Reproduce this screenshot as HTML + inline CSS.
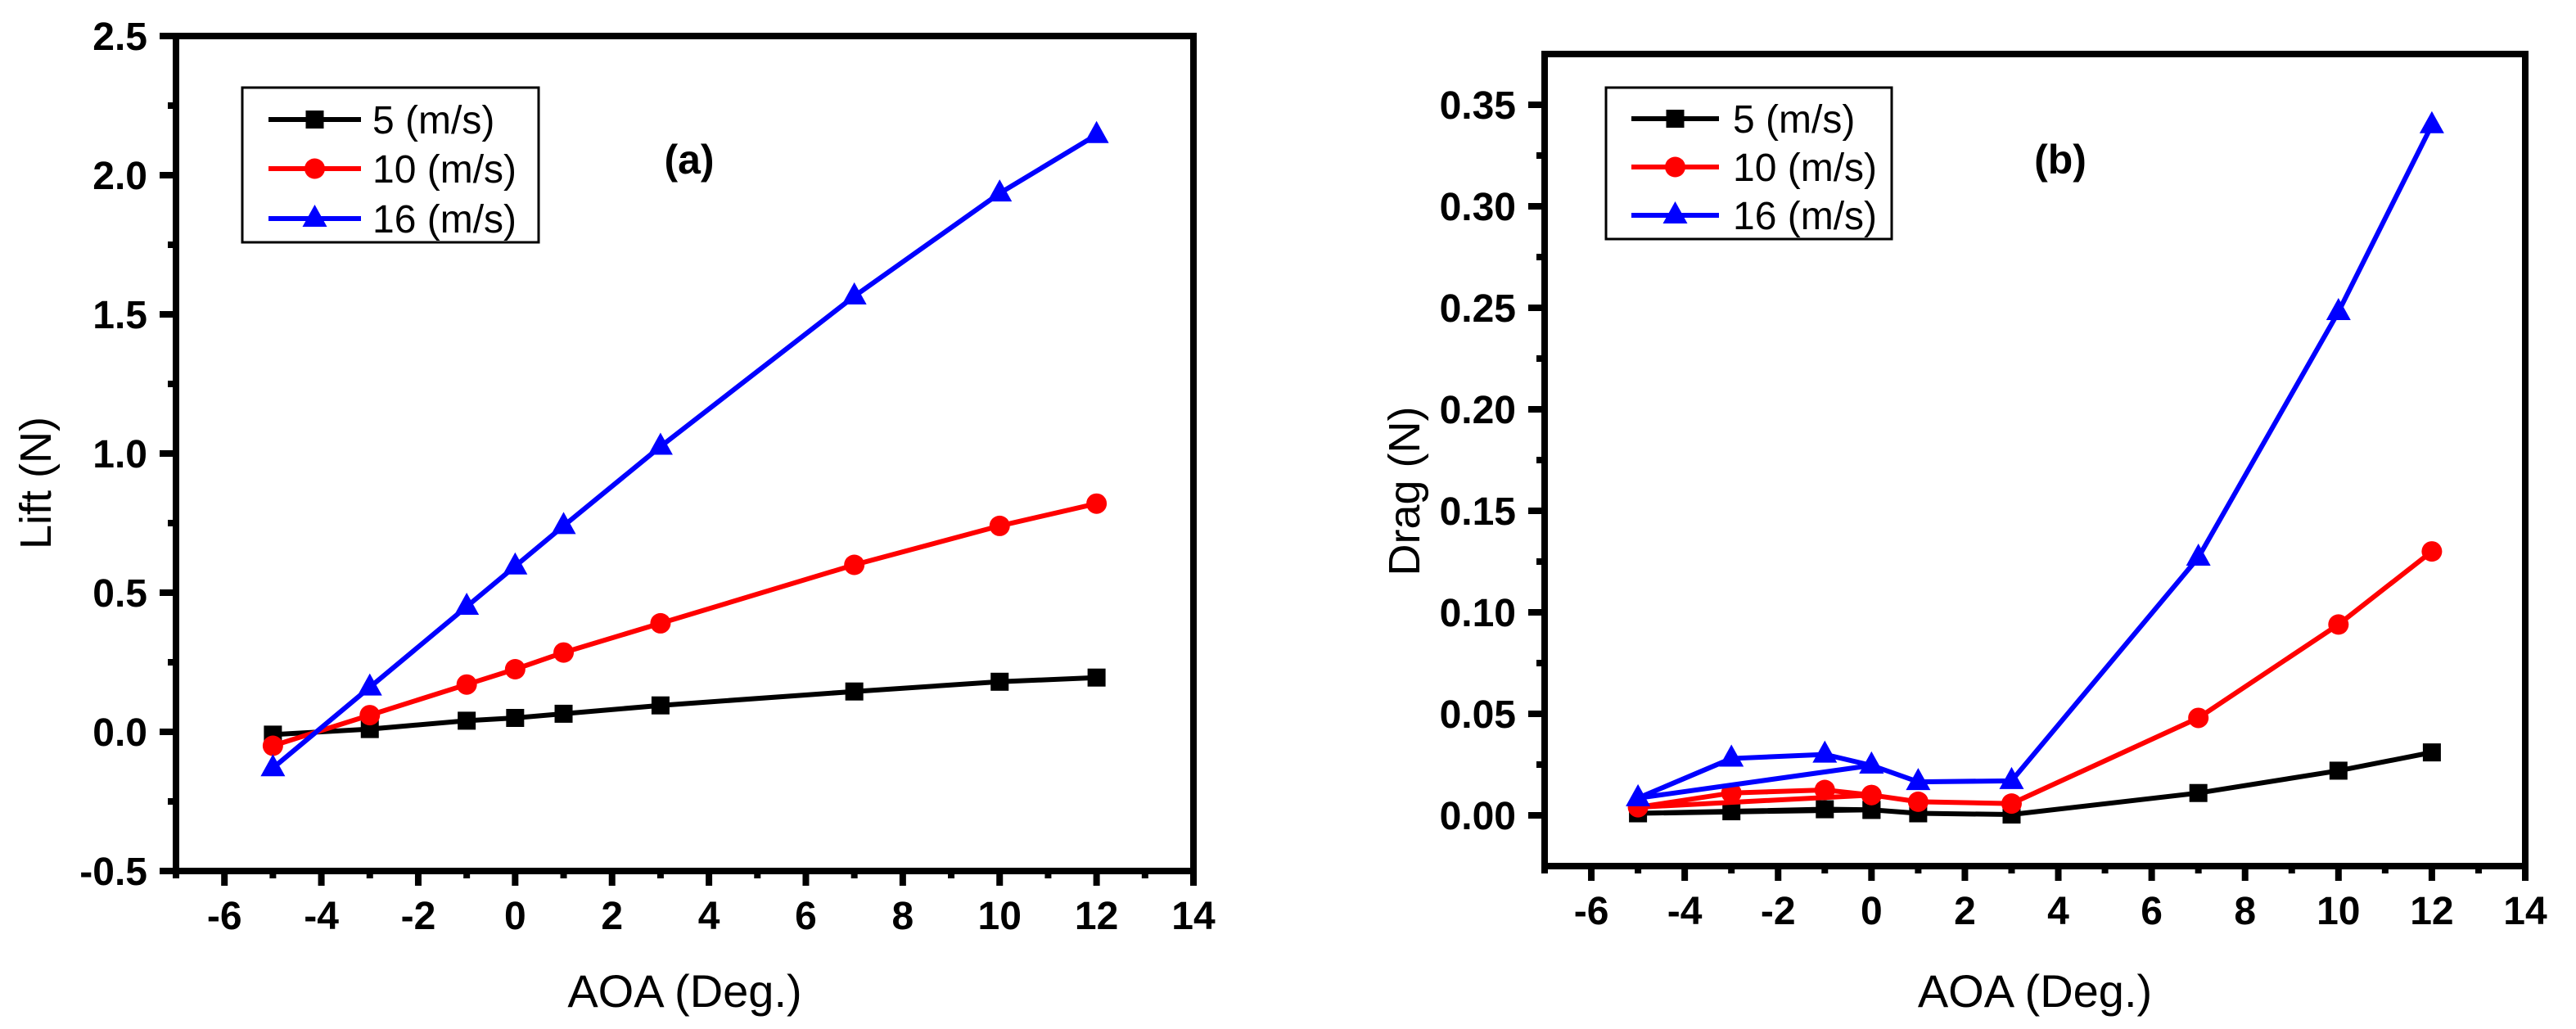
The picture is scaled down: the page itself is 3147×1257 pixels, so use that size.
<!DOCTYPE html>
<html><head><meta charset="utf-8">
<style>
html,body{margin:0;padding:0;background:#fff;}
svg{display:block;font-family:"Liberation Sans",Arial,sans-serif;}
</style></head>
<body>
<svg id="fig" width="3147" height="1257" viewBox="0 0 3147 1257" xmlns="http://www.w3.org/2000/svg"></svg>
<script>
// ---------- data ----------
const liftX = [-5, -3, -1, 0, 1, 3, 7, 10, 12];
const lift5 = [-0.01, 0.01, 0.04, 0.05, 0.065, 0.095, 0.145, 0.18, 0.195];
const lift10 = [-0.05, 0.06, 0.17, 0.225, 0.285, 0.39, 0.60, 0.74, 0.82];
const lift16 = [-0.13, 0.16, 0.45, 0.595, 0.74, 1.025, 1.565, 1.935, 2.145];

const dragX = [0, -1, -3, -5, 0, 1, 3, 7, 10, 12];
const drag5 = [0.0027, 0.003, 0.002, 0.001, 0.0027, 0.001, 0.0004, 0.011, 0.022, 0.031];
const drag10 = [0.010, 0.0125, 0.011, 0.004, 0.010, 0.0067, 0.0058, 0.048, 0.094, 0.130];
const drag16 = [0.0246, 0.030, 0.028, 0.0085, 0.0246, 0.0165, 0.017, 0.127, 0.248, 0.340];

const xTicks = [-6, -4, -2, 0, 2, 4, 6, 8, 10, 12, 14];
const liftTicks = [-0.5, 0.0, 0.5, 1.0, 1.5, 2.0, 2.5];
const liftTickLabels = ["-0.5", "0.0", "0.5", "1.0", "1.5", "2.0", "2.5"];
const dragTicks = [0, 0.05, 0.10, 0.15, 0.20, 0.25, 0.30, 0.35];
const dragTickLabels = ["0.00", "0.05", "0.10", "0.15", "0.20", "0.25", "0.30", "0.35"];
const seriesNames = ["5 (m/s)", "10 (m/s)", "16 (m/s)"];

const NS = "http://www.w3.org/2000/svg";
const svg = document.getElementById("fig");
function mk(tag, attrs, parent) {
  const e = document.createElementNS(NS, tag);
  for (const k in attrs) e.setAttribute(k, attrs[k]);
  (parent || svg).appendChild(e);
  return e;
}
const colors = ["#000000", "#ff0000", "#0000ff"];
const shapes = ["square", "circle", "triangle"];

function marker(g, shape, cx, cy, color) {
  let m;
  if (shape === "square") m = mk("rect", {x: cx - 11, y: cy - 11, width: 22, height: 22, fill: color}, g);
  else if (shape === "circle") m = mk("circle", {cx: cx, cy: cy, r: 12.5, fill: color}, g);
  else m = mk("polygon", {points: `${cx},${cy - 17} ${cx + 15},${cy + 10} ${cx - 15},${cy + 10}`, fill: color}, g);
  return m;
}

function drawChart(cfg) {
  const {L, T, R, B, xmin, xmax, ymin, ymax} = cfg;
  const sx = v => L + (v - xmin) / (xmax - xmin) * (R - L);
  const sy = v => B - (v - ymin) / (ymax - ymin) * (B - T);
  const g = mk("g", {});
  
  

  // series
  for (let s = 0; s < 3; s++) {
    const ys = cfg.series[s];
    const pts = cfg.x.map((xv, i) => sx(xv) + "," + sy(ys[i])).join(" ");
    const sg = mk("g", {}, g);
    
    
    mk("polyline", {points: pts, fill: "none", stroke: colors[s], "stroke-width": 6, "stroke-linejoin": "round"}, sg);
    cfg.x.forEach((xv, i) => {
      const m = marker(sg, shapes[s], sx(xv), sy(ys[i]), colors[s]);
      
      
    });
  }

  // frame
  const fr = mk("rect", {x: L, y: T, width: R - L, height: B - T, fill: "none", stroke: "#000", "stroke-width": 8}, g);
  
  

  // x ticks
  const xt = mk("g", {}, g);
  
  
  for (let v = xmin; v <= xmax; v++) {
    const major = xTicks.indexOf(v) >= 0;
    mk("rect", {x: sx(v) - 4, y: B, width: 8, height: major ? 18 : 9, fill: "#000"}, xt);
  }
  xTicks.forEach(v => {
    const t = mk("text", {x: sx(v), y: B + 71, "text-anchor": "middle", "font-size": 48, "font-weight": "bold"}, xt);
    t.textContent = String(v);
    
    
  });
  // y ticks
  const yt = mk("g", {}, g);
  
  
  const step = cfg.yTicks[1] - cfg.yTicks[0];
  for (let i = 0; i < cfg.yTicks.length; i++) {
    const v = cfg.yTicks[i];
    mk("rect", {x: L - 20, y: sy(v) - 4, width: 20, height: 8, fill: "#000"}, yt);
    const mv = v + step / 2;
    if (mv < ymax) mk("rect", {x: L - 10, y: sy(mv) - 4, width: 10, height: 8, fill: "#000"}, yt);
    const mv2 = v - step / 2;
    if (i === 0 && mv2 > ymin) mk("rect", {x: L - 10, y: sy(mv2) - 4, width: 10, height: 8, fill: "#000"}, yt);
    const t = mk("text", {x: L - 35, y: sy(v) + 17, "text-anchor": "end", "font-size": 48, "font-weight": "bold"}, yt);
    t.textContent = cfg.yTickLabels[i];
    
    
  }
  // titles
  const xtitle = mk("text", {x: (L + R) / 2, y: cfg.xTitleY, "text-anchor": "middle", "font-size": 56}, g);
  xtitle.textContent = "AOA (Deg.)";
  
  
  const ytitle = mk("text", {x: 0, y: 0, "text-anchor": "middle", "font-size": 54,
    transform: `translate(${cfg.yTitleX},${cfg.yTitleY}) rotate(-90)`}, g);
  ytitle.textContent = cfg.yTitle;
  
  
  const pl = mk("text", {x: cfg.panelX, y: cfg.panelY, "text-anchor": "middle", "font-size": 50, "font-weight": "bold"}, g);
  pl.textContent = cfg.panel;
  
  

  // legend
  const lg = mk("g", {}, g);
  
  
  const lb = cfg.legend;
  mk("rect", {x: lb.x, y: lb.y, width: lb.w, height: lb.h, fill: "#fff", stroke: "#000", "stroke-width": 3}, lg);
  for (let s = 0; s < 3; s++) {
    const ry = lb.rows[s];
    const e = mk("g", {}, lg);
    
    
    mk("line", {x1: lb.lx1, x2: lb.lx2, y1: ry, y2: ry, stroke: colors[s], "stroke-width": 6}, e);
    marker(e, shapes[s], (lb.lx1 + lb.lx2) / 2, ry, colors[s]);
    const t = mk("text", {x: lb.tx, y: ry + 17, "font-size": 48}, e);
    t.textContent = seriesNames[s];
  }
}

drawChart({
  name: "lift-chart", prefix: "lift", L: 215, T: 44, R: 1458, B: 1064,
  xmin: -7, xmax: 14, ymin: -0.5, ymax: 2.5,
  x: liftX, series: [lift5, lift10, lift16],
  yTicks: liftTicks, yTickLabels: liftTickLabels,
  xTitleY: 1230, yTitle: "Lift (N)", yTitleX: 62, yTitleY: 590,
  panel: "(a)", panelX: 842, panelY: 212,
  legend: {x: 296, y: 107, w: 362, h: 189, rows: [146, 206, 267], lx1: 328, lx2: 441, tx: 455}
});
drawChart({
  name: "drag-chart", prefix: "drag", L: 1887, T: 66, R: 3085, B: 1058,
  xmin: -7, xmax: 14, ymin: -0.025, ymax: 0.375,
  x: dragX, series: [drag5, drag10, drag16],
  yTicks: dragTicks, yTickLabels: dragTickLabels,
  xTitleY: 1230, yTitle: "Drag (N)", yTitleX: 1734, yTitleY: 600,
  panel: "(b)", panelX: 2517, panelY: 212,
  legend: {x: 1962, y: 107, w: 349, h: 185, rows: [145, 204, 263], lx1: 1993, lx2: 2100, tx: 2117}
});
</script>
</body></html>
